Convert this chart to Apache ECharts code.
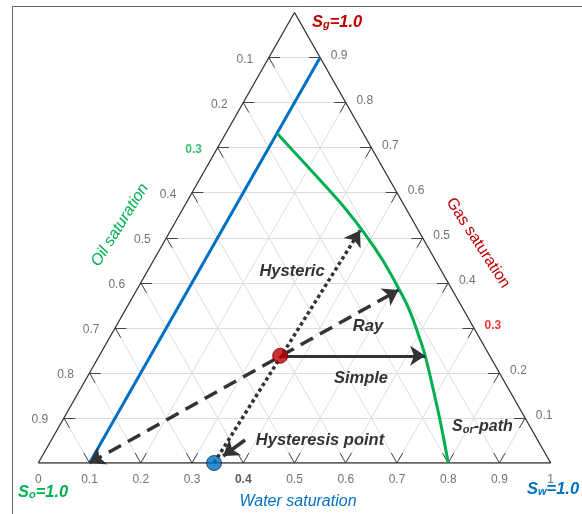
<!DOCTYPE html>
<html>
<head>
<meta charset="utf-8">
<script src="https://cdn.jsdelivr.net/npm/echarts@6/dist/echarts.min.js"></script>
<style>
  html, body { margin: 0; padding: 0; background: #fff; }
  #chart { width: 582px; height: 514px; }
</style>
</head>
<body>
<div id="chart"></div>
<script>
// Ternary saturation diagram. Every state is written as [Sw, Sg]; So = 1 - Sw - Sg.
const gridSteps = [0.1, 0.2, 0.3, 0.4, 0.5, 0.6, 0.7, 0.8, 0.9];

// Water saturation along the base (Sg = 0)
const waterTicks = [0, 0.1, 0.2, 0.3, 0.4, 0.5, 0.6, 0.7, 0.8, 0.9, 1];
const waterTickLabels = ['0', '0.1', '0.2', '0.3', '0.4', '0.5', '0.6', '0.7', '0.8', '0.9', '1'];
// Oil saturation along the left edge (Sw = 0, Sg = 1 - So)
const oilTicks = [0.1, 0.2, 0.3, 0.4, 0.5, 0.6, 0.7, 0.8, 0.9];
const oilTickLabels = ['0.1', '0.2', '0.3', '0.4', '0.5', '0.6', '0.7', '0.8', '0.9'];
// Gas saturation along the right edge (So = 0)
const gasTicks = [0.1, 0.2, 0.3, 0.4, 0.5, 0.6, 0.7, 0.8, 0.9];
const gasTickLabels = ['0.1', '0.2', '0.3', '0.4', '0.5', '0.6', '0.7', '0.8', '0.9'];

// Connate water line Sw = 0.1
const connateWaterLine = [[0.1, 0], [0.1, 0.9]];
// Residual-oil path
const sorPath = [
  [0.100, 0.732], [0.177, 0.673], [0.250, 0.617], [0.320, 0.562],
  [0.386, 0.506], [0.446, 0.451], [0.502, 0.395], [0.554, 0.340],
  [0.600, 0.284], [0.636, 0.238], [0.690, 0.162], [0.744, 0.084],
  [0.800, 0.000]
];
const currentState = [0.353, 0.238];
const hysteresisPoint = [0.343, 0.0];
const simplePath = [currentState, [0.636, 0.238]];
const rayPath = [[0.1, 0.0], [0.511, 0.384]];
const hystericPath = [hysteresisPoint, [0.370, 0.516]];
const hysteresisPointer = [[0.378, 0.051], [0.353, 0.0155]];

// [Sw, Sg] -> cartesian (x along base, y = Sg)
function toXY(p) { return [p[0] + p[1] / 2, p[1]]; }
function seg(a, b) { return { coords: [toXY(a), toXY(b)] }; }

const FONT = '"Liberation Sans", Arial, Helvetica, sans-serif';
const TICK = 0.022;
const BLUE = '#0070c0', GREEN = '#00b050', DARKRED = '#c00000';

// grid lines and edge ticks
const gridSegs = [], tickSegs = [];
gridSteps.forEach(s => {
  gridSegs.push(seg([0, s], [1 - s, s]));        // constant Sg
  gridSegs.push(seg([s, 0], [s, 1 - s]));        // constant Sw
  gridSegs.push(seg([1 - s, 0], [0, 1 - s]));    // constant So
});
waterTicks.slice(1, -1).forEach(s => {
  tickSegs.push(seg([s, 0], [s, TICK]));
  tickSegs.push(seg([s, 0], [s - TICK, TICK]));
});
oilTicks.forEach(o => {
  const g = 1 - o;
  tickSegs.push(seg([0, g], [TICK, g]));
  tickSegs.push(seg([0, g], [TICK, g - TICK]));
});
gasTicks.forEach(g => {
  tickSegs.push(seg([1 - g, g], [1 - g - TICK, g]));
  tickSegs.push(seg([1 - g, g], [1 - g, g - TICK]));
});

const tickLabelBase = { show: true, position: 'inside', fontFamily: FONT, fontSize: 12, color: '#4d4d4d' };
const waterLabelData = waterTicks.map((v, i) => ({
  value: toXY([v, 0]),
  label: Object.assign({}, tickLabelBase, { formatter: waterTickLabels[i], offset: [0, 17],
    fontWeight: waterTickLabels[i] === '0.4' ? 'bold' : 'normal', color: waterTickLabels[i] === '0.4' ? '#333' : '#4d4d4d' })
}));
const oilLabelData = oilTicks.map((v, i) => ({
  value: toXY([0, 1 - v]),
  label: Object.assign({}, tickLabelBase, { formatter: oilTickLabels[i], offset: [-24, 2],
    fontWeight: oilTickLabels[i] === '0.3' ? 'bold' : 'normal', color: oilTickLabels[i] === '0.3' ? GREEN : '#4d4d4d' })
}));
const gasLabelData = gasTicks.map((v, i) => ({
  value: toXY([1 - v, v]),
  label: Object.assign({}, tickLabelBase, { formatter: gasTickLabels[i], offset: [19, -2],
    fontWeight: gasTickLabels[i] === '0.3' ? 'bold' : 'normal', color: gasTickLabels[i] === '0.3' ? '#ff0000' : '#4d4d4d' })
}));

function subText(main, sub, tail, color, size) {
  return {
    text: '{m|' + main + '}{s|' + sub + '}{m|' + tail + '}',
    rich: {
      m: { fontFamily: FONT, fontSize: size, fontWeight: 'bold', fontStyle: 'italic', fill: color, color: color, lineHeight: 17 },
      s: { fontFamily: FONT, fontSize: Math.round(size * 0.68), fontWeight: 'bold', fontStyle: 'italic', fill: color, color: color, lineHeight: 5, verticalAlign: 'bottom' }
    }
  };
}
function note(x, y, txt) {
  return { type: 'text', x: x, y: y, z: 50, style: {
    text: txt, fontFamily: FONT, fontSize: 16.5, fontWeight: 'bold', fontStyle: 'italic',
    fill: '#333', align: 'center', verticalAlign: 'middle' } };
}

const chart = echarts.init(document.getElementById('chart'), null, { renderer: 'canvas' });
chart.setOption({
  animation: false,
  backgroundColor: '#fff',
  grid: { left: 38.3, right: 31.3, top: 12.5, bottom: 51 },
  xAxis: { type: 'value', min: 0, max: 1, show: false },
  yAxis: { type: 'value', min: 0, max: 1, show: false },
  series: [
    { type: 'lines', coordinateSystem: 'cartesian2d', silent: true, z: 1,
      lineStyle: { color: '#dcdcdc', width: 1, opacity: 1 }, data: gridSegs },
    { type: 'lines', coordinateSystem: 'cartesian2d', silent: true, z: 2,
      lineStyle: { color: '#444', width: 1, opacity: 1 }, data: tickSegs },
    { type: 'line', silent: true, z: 3, symbol: 'none',
      lineStyle: { color: '#333', width: 1.3 },
      data: [[0, 0], [1, 0], [0, 1], [0, 0]].map(toXY) },
    { type: 'line', silent: true, z: 4, symbol: 'none',
      lineStyle: { color: BLUE, width: 3 }, data: connateWaterLine.map(toXY) },
    { type: 'line', silent: true, z: 4, symbol: 'none', smooth: 0.4,
      lineStyle: { color: GREEN, width: 3 }, data: sorPath.map(toXY) },
    // Ray path (dashed, both directions)
    { type: 'lines', coordinateSystem: 'cartesian2d', silent: true, z: 5,
      symbol: ['arrow', 'arrow'], symbolSize: 15,
      lineStyle: { color: '#333', width: 3.5, type: [14, 8], opacity: 1 },
      data: [seg(rayPath[0], rayPath[1])] },
    // Hysteric path (dotted)
    { type: 'lines', coordinateSystem: 'cartesian2d', silent: true, z: 5,
      symbol: ['none', 'arrow'], symbolSize: 15,
      lineStyle: { color: '#333', width: 3.5, type: [3.5, 3], opacity: 1 },
      data: [seg(hystericPath[0], hystericPath[1])] },
    // Simple path (solid)
    { type: 'lines', coordinateSystem: 'cartesian2d', silent: true, z: 5,
      symbol: ['none', 'arrow'], symbolSize: 15,
      lineStyle: { color: '#333', width: 3, opacity: 1 },
      data: [seg(simplePath[0], simplePath[1])] },
    // pointer to the hysteresis point
    { type: 'lines', coordinateSystem: 'cartesian2d', silent: true, z: 5,
      symbol: ['none', 'arrow'], symbolSize: 15,
      lineStyle: { color: '#333', width: 3.5, opacity: 1 },
      data: [seg(hysteresisPointer[0], hysteresisPointer[1])] },
    { type: 'scatter', silent: true, z: 6, symbolSize: 15,
      data: [
        { value: toXY(currentState), itemStyle: { color: DARKRED, borderColor: '#6b0000', borderWidth: 1 } },
        { value: toXY(hysteresisPoint), itemStyle: { color: BLUE, borderColor: '#0b2f55', borderWidth: 1 } }
      ] },
    { type: 'scatter', silent: true, z: 7, symbolSize: 0, data: waterLabelData },
    { type: 'scatter', silent: true, z: 7, symbolSize: 0, data: oilLabelData },
    { type: 'scatter', silent: true, z: 7, symbolSize: 0, data: gasLabelData }
  ],
  graphic: [
    { type: 'rect', z: 0, shape: { x: 12.5, y: 6.5, width: 700, height: 700 },
      style: { fill: 'none', stroke: '#666', lineWidth: 1 } },
    note(292, 271, 'Hysteric'),
    note(368, 326, 'Ray'),
    note(361, 378, 'Simple'),
    note(320, 440, 'Hysteresis point'),
    { type: 'text', x: 452, y: 427, z: 50,
      style: Object.assign(subText('S', 'or', '-path', '#333', 16), { verticalAlign: 'middle' }) },
    { type: 'text', x: 312, y: 22, z: 50,
      style: Object.assign(subText('S', 'g', '=1.0', DARKRED, 16.5), { verticalAlign: 'middle' }) },
    { type: 'text', x: 18, y: 492, z: 50,
      style: Object.assign(subText('S', 'o', '=1.0', GREEN, 16.5), { verticalAlign: 'middle' }) },
    { type: 'text', x: 527, y: 489, z: 50,
      style: Object.assign(subText('S', 'w', '=1.0', BLUE, 16.5), { verticalAlign: 'middle' }) },
    { type: 'text', x: 298, y: 502, z: 50, style: {
      text: 'Water saturation', fontFamily: FONT, fontSize: 16, fontStyle: 'italic',
      fill: BLUE, align: 'center', verticalAlign: 'middle' } },
    { type: 'text', x: 120, y: 225, z: 50, rotation: 58 * Math.PI / 180, style: {
      text: 'Oil saturation', fontFamily: FONT, fontSize: 16, fontStyle: 'italic',
      fill: GREEN, align: 'center', verticalAlign: 'middle' } },
    { type: 'text', x: 478, y: 243, z: 50, rotation: -57 * Math.PI / 180, style: {
      text: 'Gas saturation', fontFamily: FONT, fontSize: 16,
      fill: DARKRED, align: 'center', verticalAlign: 'middle' } }
  ]
});
</script>
</body>
</html>
